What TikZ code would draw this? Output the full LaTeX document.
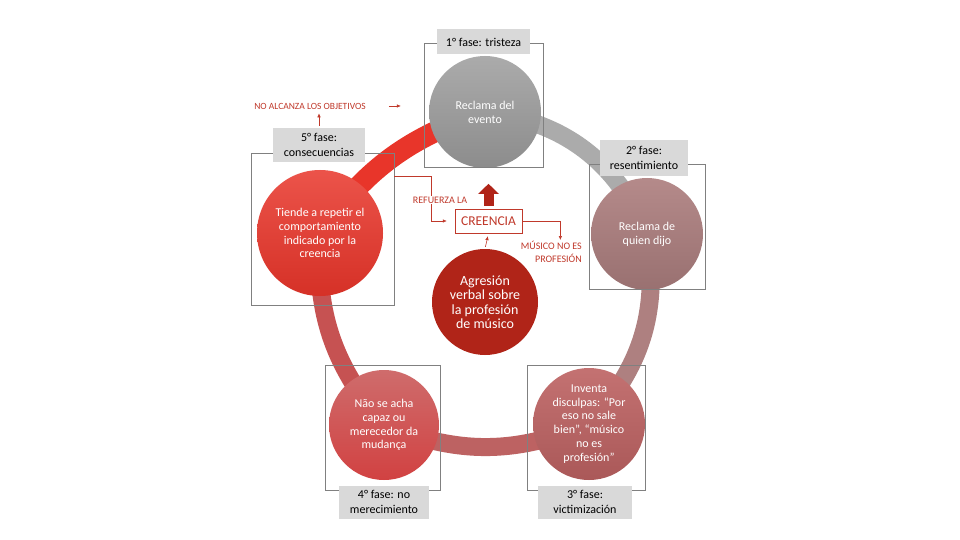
\documentclass[tikz,border=0pt]{standalone}
\usepackage{fontspec}
\setmainfont{Carlito}
\usetikzlibrary{arrows.meta,backgrounds}

\definecolor{ringgray}{HTML}{ABABAB}
\definecolor{ringmauve}{HTML}{AE8080}
\definecolor{ringrose}{HTML}{BD6262}
\definecolor{ringred}{HTML}{C65252}
\definecolor{ringbright}{HTML}{E8352A}
\definecolor{annored}{HTML}{C0392B}
\definecolor{darkred}{HTML}{B02418}
\definecolor{framegray}{HTML}{808080}
\definecolor{lblgray}{HTML}{D9D9D9}

\begin{document}
\begin{tikzpicture}[x=1pt,y=-1pt,
    ring/.style={line width=18pt},
    stage/.style={circle,minimum size=#1,inner sep=0pt,text=white,align=center,
      font=\fontsize{12}{13.8}\selectfont},
    frame/.style={draw=framegray,line width=0.8pt,inner sep=0pt},
    phase/.style={fill=lblgray,align=center,inner sep=0pt,
      font=\fontsize{12}{14.5}\selectfont},
    note/.style={text=annored,align=center,inner sep=0pt,
      font=\fontsize{10}{13}\selectfont},
    noteline/.style={draw=annored,line width=0.6pt,-{Latex[length=4pt,width=3.5pt]}}]
  \useasboundingbox (0,0) rectangle (960,540);

  % stages
  \node[stage=112pt,top color=black!33,bottom color=black!45] (c1) at (485,112) {Reclama del\\evento};
  \node[stage=112pt,top color=ringmauve!92!white,bottom color=ringmauve!88!black] (c2) at (647,234) {Reclama de\\quien dijo};
  \node[stage=112pt,top color=ringrose!90!white,bottom color=ringrose!90!black] (c3) at (589,424)
    {Inventa\\disculpas: “Por\\eso no sale\\bien”, “músico\\no es\\profesión”};
  \node[stage=110pt,top color=ringred!85!white,bottom color=ringred!80!red] (c4) at (384,425)
    {Não se acha\\capaz ou\\merecedor da\\mudança};
  \node[stage=126pt,top color=ringbright!85!white,bottom color=ringbright!92!black] (c5) at (320,233)
    {Tiende a repetir el\\comportamiento\\indicado por la\\creencia};
  \node[stage=106pt,fill=darkred,font=\fontsize{14}{14.5}\selectfont] (c0) at (485,302)
    {Agresión\\verbal sobre\\la profesión\\de músico};

  % cycle
  \begin{scope}[on background layer]
    \fill[white] (0,0) rectangle (960,540);
    \draw[ring,ringgray] (c1.center) to[bend left=30] (c2.center);
    \draw[ring,ringmauve] (c2.center) to[bend left=26] (c3.center);
    \draw[ring,ringrose] (c3.center) to[bend left=22] (c4.center);
    \draw[ring,ringred] (c4.center) to[bend left=22] (c5.center);
    \draw[ring,ringbright,line width=21pt] (c5.center) to[bend left=18] (c1.center);
  \end{scope}

  % frames and phases
  \node[frame,minimum width=119pt,minimum height=124pt] (box1) at (483.5,105) {};
  \node[frame,minimum width=116pt,minimum height=125pt] (box2) at (647,226.5) {};
  \node[frame,minimum width=118pt,minimum height=125pt] (box3) at (586,427.5) {};
  \node[frame,minimum width=115pt,minimum height=125pt] (box4) at (382.5,427.5) {};
  \node[frame,minimum width=143pt,minimum height=152pt] (box5) at (322.5,229) {};

  \node[phase,minimum width=93pt,minimum height=25pt] (lbl1) at (483.5,42) {1° fase: tristeza};
  \node[phase,minimum width=88pt,minimum height=36pt] (lbl2) at (644,158) {2° fase:\\resentimiento};
  \node[phase,minimum width=94pt,minimum height=33pt] (lbl3) at (585,502) {3° fase:\\victimización};
  \node[phase,minimum width=90pt,minimum height=33pt] (lbl4) at (384,502) {4° fase: no\\merecimiento};
  \node[phase,minimum width=92pt,minimum height=34pt] (lbl5) at (319,145) {5° fase:\\consecuencias};

  % belief
  \node[draw=annored,text=annored,minimum width=67pt,minimum height=24pt,inner sep=0pt,
    font=\fontsize{13.5}{15}\selectfont] (creencia) at (488.5,221) {CREENCIA};
  \draw[darkred,line width=10pt,-{Triangle[width=20pt,length=10pt]}]
    ([yshift=3pt]creencia.north) -- ([yshift=25pt]creencia.north);
  \draw[noteline,shorten <=2pt,shorten >=3pt] (c0.north) -- (creencia.south);

  \coordinate (bend1) at (431,176);
  \draw[noteline,shorten >=8pt] (box5.east |- bend1) -| (bend1 |- creencia) -- (creencia.west);
  \node[note,fill=white,inner sep=1pt] (refuerza) at (440,200) {REFUERZA LA};

  \node[note,align=right,anchor=north east] (musico) at (582,241) {MÚSICO NO ES\\PROFESIÓN};
  \draw[noteline,shorten >=1pt] (creencia.east) -| ([xshift=9pt]musico.north);

  % consequences
  \node[note,font=\fontsize{9.5}{11}\selectfont] (noalc) at (310,106) {NO ALCANZA LOS OBJETIVOS};
  \draw[noteline,shorten <=2pt,shorten >=4pt] (lbl5.north) -- (lbl5.north |- noalc.south);
  \draw[noteline] ([xshift=23pt]noalc.east) -- ++(12,0);
\end{tikzpicture}
\end{document}
